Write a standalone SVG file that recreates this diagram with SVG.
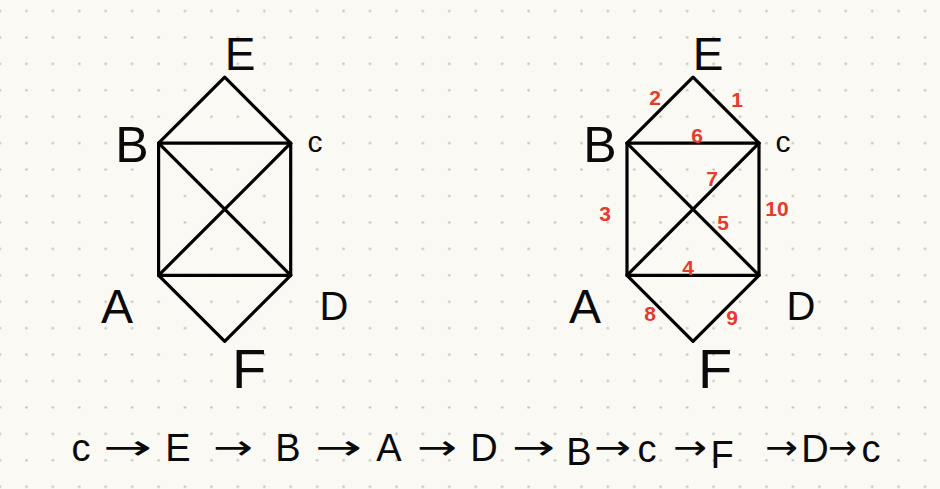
<svg xmlns="http://www.w3.org/2000/svg" width="940" height="489" viewBox="0 0 940 489">
<defs>
<pattern id="dots" x="-13.215" y="-2.215" width="26.43" height="26.43" patternUnits="userSpaceOnUse">
<circle cx="13.215" cy="13.215" r="1.3" fill="#c4c3bd"/>
</pattern>
<style>
.edge{stroke:#000;stroke-width:3.2;stroke-linecap:round;stroke-linejoin:round;fill:none}
.lbl{font-family:"Liberation Sans",Arial,sans-serif;fill:#0a0a0a;text-anchor:middle}
.num{font-family:"Liberation Sans",Arial,sans-serif;fill:#e63a2a;text-anchor:middle;font-size:21px;font-weight:bold}
.arr{font-family:"DejaVu Sans",sans-serif;fill:#0a0a0a;font-size:34px}
.path{font-family:"Liberation Sans",Arial,sans-serif;fill:#0a0a0a;text-anchor:middle;font-size:38px}
</style>
</defs>
<rect width="940" height="489" fill="#fbf9f4"/>
<rect width="940" height="489" fill="url(#dots)"/>

<g id="connectors">
<g id="left-edges" class="edge">
<path d="M158.6 143.2 L224.7 77.1 L290.7 143.2"/>
<path d="M158.6 143.2 H290.7 V275.3 H158.6 Z"/>
<path d="M158.6 143.2 L290.7 275.3 M290.7 143.2 L158.6 275.3"/>
<path d="M158.6 275.3 L224.7 341.4 L290.7 275.3"/>
</g>
<g id="right-edges" class="edge">
<path d="M627 143.2 L693 77.1 L759 143.2"/>
<path d="M627 143.2 H759 V275.3 H627 Z"/>
<path d="M627 143.2 L759 275.3 M759 143.2 L627 275.3"/>
<path d="M627 275.3 L693 341.4 L759 275.3"/>
</g>
</g>

<g id="left-graph">
<g id="L-E"><text class="lbl" x="240" y="70" font-size="46">E</text></g>
<g id="L-B"><text class="lbl" x="132" y="162" font-size="50">B</text></g>
<g id="L-C"><text class="lbl" x="315" y="152" font-size="30">c</text></g>
<g id="L-A"><text class="lbl" x="117" y="323" font-size="48">A</text></g>
<g id="L-D"><text class="lbl" x="334" y="320" font-size="40">D</text></g>
<g id="L-F"><text class="lbl" x="249" y="388" font-size="56">F</text></g>
</g>

<g id="right-graph">
<g id="R-E"><text class="lbl" x="708" y="70" font-size="46">E</text></g>
<g id="R-B"><text class="lbl" x="600" y="162" font-size="50">B</text></g>
<g id="R-C"><text class="lbl" x="783" y="152" font-size="30">c</text></g>
<g id="R-A"><text class="lbl" x="585" y="323" font-size="48">A</text></g>
<g id="R-D"><text class="lbl" x="801" y="320" font-size="40">D</text></g>
<g id="R-F"><text class="lbl" x="715" y="388" font-size="56">F</text></g>
</g>

<g id="weights">
<text class="num" x="737" y="107">1</text>
<text class="num" x="655" y="105">2</text>
<text class="num" x="605" y="221">3</text>
<text class="num" x="688" y="275">4</text>
<text class="num" x="723" y="230">5</text>
<text class="num" x="697" y="143">6</text>
<text class="num" x="712" y="186">7</text>
<text class="num" x="650" y="321">8</text>
<text class="num" x="732" y="325">9</text>
<text class="num" x="777" y="216">10</text>
</g>

<g id="route">
<text class="path" x="81" y="461">c</text>
<text class="arr" x="103" y="459" textLength="49" lengthAdjust="spacingAndGlyphs">→</text>
<text class="path" x="178" y="461">E</text>
<text class="arr" x="213" y="459" textLength="40" lengthAdjust="spacingAndGlyphs">→</text>
<text class="path" x="288" y="461">B</text>
<text class="arr" x="315" y="459" textLength="47" lengthAdjust="spacingAndGlyphs">→</text>
<text class="path" x="389" y="461">A</text>
<text class="arr" x="417" y="459" textLength="40" lengthAdjust="spacingAndGlyphs">→</text>
<text class="path" x="484" y="461">D</text>
<text class="arr" x="512" y="459" textLength="43" lengthAdjust="spacingAndGlyphs">→</text>
<text class="path" x="579" y="465">B</text>
<text class="arr" x="594" y="459" textLength="37" lengthAdjust="spacingAndGlyphs">→</text>
<text class="path" x="647" y="462">c</text>
<text class="arr" x="673" y="459" textLength="34" lengthAdjust="spacingAndGlyphs">→</text>
<text class="path" x="722" y="468" font-size="46">F</text>
<text class="arr" x="765" y="459" textLength="33" lengthAdjust="spacingAndGlyphs">→</text>
<text class="path" x="815" y="462">D</text>
<text class="arr" x="828" y="459" textLength="29" lengthAdjust="spacingAndGlyphs">→</text>
<text class="path" x="871" y="462">c</text>
</g>
</svg>
